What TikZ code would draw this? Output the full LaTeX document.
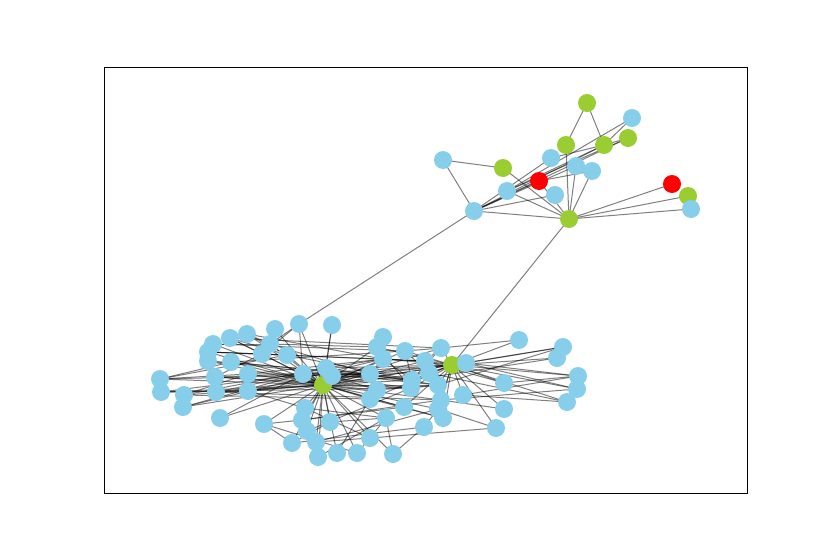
\documentclass[tikz,border=0pt]{standalone}
\usetikzlibrary{backgrounds}
\definecolor{skyb}{HTML}{87CEEB}
\definecolor{ygreen}{HTML}{9ACD32}
\definecolor{nred}{HTML}{FF0000}
\tikzset{
  vtx/.style={circle,inner sep=0pt,minimum size=18pt,draw=none},
  vb/.style={vtx,fill=skyb},
  vg/.style={vtx,fill=ygreen},
  vr/.style={vtx,fill=nred},
  edge/.style={draw=black,draw opacity=0.5,line width=1pt},
  frame/.style={draw=black,line width=0.8pt}
}
\begin{document}
\begin{tikzpicture}[x=1pt,y=-1pt]
\useasboundingbox (0,0) rectangle (830,554);
\draw[frame] (104,67) rectangle (747,493);
% top cluster
\foreach \n/\x/\y/\s in {t1/587/103/vg,t2/632/118/vb,t3/604/145/vg,t4/628/138/vg,t5/566/145/vg,t6/443/160/vb,t7/503/168/vg,t8/551/158/vb,t9/576/166/vb,t10/592/171/vb,t11/539/181/vr,t12/507/191/vb,t13/555/195/vb,t14/474/211/vb,t15/569/219/vg,t16/672/184/vr,t17/688/196/vg,t18/691/209/vb}
  \node[\s] (\n) at (\x,\y) {};
% bottom cluster
\foreach \n/\x/\y/\s in {g1/323/385/vg,g2/452/365/vg,
 b1/160/379/vb,b2/161/392/vb,b3/184/395/vb,b4/183/407/vb,b5/215/377/vb,b6/216/392/vb,b7/208/352/vb,b8/208/361/vb,b9/213/344/vb,b10/230/338/vb,b11/231/362/vb,b12/247/334/vb,b13/248/374/vb,b14/248/391/vb,b15/275/329/vb,b16/270/344/vb,b17/262/354/vb,b18/287/355/vb,b19/299/324/vb,b20/332/325/vb,b21/303/374/vb,b22/326/368/vb,b23/220/418/vb,b24/264/424/vb,
 b25/383/337/vb,b26/377/347/vb,b27/383/359/vb,b28/405/351/vb,b29/370/374/vb,b30/377/390/vb,b31/370/399/vb,b32/305/408/vb,b33/302/420/vb,b34/307/431/vb,b35/292/443/vb,b36/316/442/vb,b37/318/457/vb,b38/330/422/vb,b39/337/453/vb,b40/357/453/vb,b41/370/438/vb,b42/386/418/vb,b43/404/407/vb,b44/393/454/vb,b45/424/427/vb,
 b46/441/348/vb,b47/425/361/vb,b48/429/373/vb,b49/412/380/vb,b50/411/388/vb,b51/438/385/vb,b52/441/400/vb,b53/438/409/vb,b54/443/418/vb,b55/463/395/vb,b56/466/363/vb,b57/519/340/vb,b58/563/347/vb,b59/557/358/vb,b60/578/376/vb,b61/577/389/vb,b62/567/402/vb,b63/504/383/vb,b64/504/409/vb,b65/496/428/vb,b67/332/376/vb}
  \node[\s] (\n) at (\x,\y) {};
\begin{scope}[on background layer]
\foreach \a/\b in {t1/t5,t1/t3,t2/t3,t2/t12,t4/t3,t4/t14,t4/t12,t6/t7,t6/t14,t7/t15,t8/t14,t5/t15,t11/t14,t11/t10,t11/t15,t12/t15,t14/t15,t14/t13,t15/t9,t15/t10,t15/t16,t15/t17,t15/t18,t3/t14,t3/t12,t9/t14,t8/t3,
 t14/b19,t15/g2}
  \draw[edge] (\a.center) -- (\b.center);
\foreach \b in {b1,b2,b3,b5,b6,b7,b8,b10,b11,b13,b14,b16,b17,b18,b19,b20,b21,b22,b27,b28,b29,b30,b31,b32,b33,b34,b35,b36,b37,b38,b39,b40,b41,b42,b43,b44,b47,b48,b49,b50,b51,b52,b24,b23,b56,g2,b67,b9,b12,b15,b26,b46,b53,b54,b4}
  \draw[edge] (g1.center) -- (\b.center);
\foreach \b in {b46,b47,b48,b49,b50,b51,b52,b53,b54,b55,b56,b57,b58,b59,b60,b61,b62,b63,b64,b65,b28,b29,b27,b31,b43,b21,b22,b67,b26}
  \draw[edge] (g2.center) -- (\b.center);
\foreach \a/\b in {b1/b11,b1/b13,b1/b18,b2/b14,b2/b21,b3/b13,b3/b22,b4/b21,b4/b27,b5/b17,b6/b29,b7/b17,b9/b16,b10/b18,b12/b18,b15/b17,b16/b29,b23/b21,b24/b33,b24/b35,b24/b40,b14/b29,b13/b27,b8/b29,b11/b28,b7/b18,b10/b17,b12/b16,
 b7/b47,b9/b28,b10/b46,b11/b49,b8/b51,b12/b27,b5/b50,b6/b52,b13/b48,b16/b26,b17/b47,b18/b49,b1/b29,b2/b50,b3/b31,b5/b21,b6/b21,b14/b32,
 b25/b26,b25/b31,b26/b50,b27/b49,b28/b46,b30/b51,b31/b54,b32/b42,b33/b43,b35/b45,b36/b41,b38/b42,b40/b41,b41/b42,b42/b44,b44/b45,b45/b53,b52/b64,b53/b65,b41/b65,b34/b50,b37/b42,b39/b31,b35/b38,b32/b41,b36/b53,b33/b52,
 b55/b62,b56/b60,b56/b61,b63/b60,b51/b58,b46/b57,b56/b58,b49/b59,b48/b62,b47/b63,b55/b60,b52/b61,
 b46/b47,b47/b48,b48/b49,b49/b50,b50/b51,b51/b52,b52/b53,b47/b51,b48/b52,b46/b49,b49/b29,b47/b27,b28/b49,b28/b48,
 b19/b17,b19/b21,b20/b22,b19/b16,b21/b29,b22/b27,b67/b49,b21/b50,b22/b51,b67/b30}
  \draw[edge] (\a.center) -- (\b.center);
\end{scope}
\end{tikzpicture}
\end{document}
